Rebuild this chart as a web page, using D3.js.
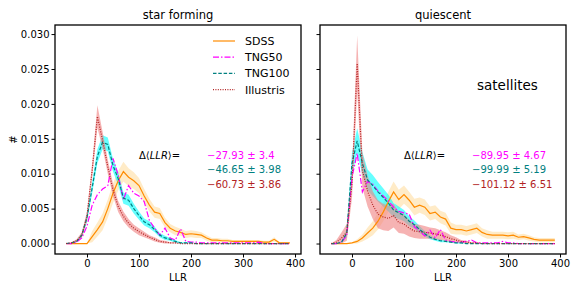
<!DOCTYPE html>
<html>
<head>
<meta charset="utf-8">
<script src="https://cdn.jsdelivr.net/npm/d3@7"></script>
<style>
body { margin: 0; background: #fff; }
text { font-family: "DejaVu Sans", sans-serif; }
</style>
</head>
<body>
<div id="chart"></div>
<script>
// bin centres (LLR)
var llr = [-40,-30,-20,-10,0,10,20,30,40,50,60,70,80,90,100,110,120,130,140,150,160,170,180,190,200,
  210,220,230,240,250,260,270,280,290,300,310,320,330,340,350,360,370,380,390];

// star forming
var sdssL = [0,0,0,0,0,0.001,0.002,0.0031,0.005,0.0072,0.009,0.0103,0.0095,0.009,0.0083,0.0068,0.0055,0.0045,0.0043,0.003,
  0.0022,0.0018,0.0016,0.0013,0.0014,0.0013,0.0012,0.0008,0.0005,0.0005,0.0004,0.0004,0.0003,0.0003,0.0003,0.0003,0.0003,0.0003,0.0002,0.0002,0.0006,0.0001,0.0001,0.0001];
var sdssErrL = [0,0,0,0,0,0.0008,0.001,0.0012,0.0013,0.0014,0.0014,0.0014,0.0013,0.0012,0.0011,0.001,0.0009,0.0008,0.0008,0.0007,
  0.0006,0.0006,0.0005,0.0005,0.0005,0.0005,0.0004,0.0004,0.0003,0.0003,0.0003,0.0003,0.0002,0.0002,0.0002,0.0002,0.0002,0.0002,0.0002,0.0002,0.0003,0.0001,0.0001,0.0001];
var tng50L = [0,0,0.0002,0.0008,0.0025,0.0055,0.007,0.0078,0.0083,0.0122,0.0098,0.0063,0.0083,0.0072,0.0068,0.006,0.0033,0.0022,0.0012,0.0022,
  0.0008,0.0005,0.0021,0.0003,0.0002,0.0002,0.0001,0.0001,0.0001,0.0001,0.0001,0.0001,0.0001,0.0001,0.0001,0.0001,0.0001,0.0002,0,0,0,0,0,0];
var tng100L = [0,0.0001,0.0003,0.0012,0.0037,0.008,0.0125,0.0145,0.0142,0.0112,0.0093,0.0065,0.0062,0.005,0.004,0.0031,0.0027,0.002,0.0012,0.0008,
  0.0006,0.0003,0.0001,0.0001,0.0001,0,0,0,0,0,0,0,0,0,0,0,0,0,0,0,0,0,0,0];
var tng100ErrL = [0,0,0.0001,0.0003,0.0006,0.0008,0.001,0.001,0.001,0.0009,0.0009,0.0008,0.0008,0.0007,0.0006,0.0005,0.0005,0.0004,0.0003,0.0003,
  0.0002,0.0002,0.0001,0.0001,0.0001,0,0,0,0,0,0,0,0,0,0,0,0,0,0,0,0,0,0,0];
var illL = [0,0.0001,0.0004,0.0012,0.0039,0.0105,0.0182,0.0148,0.011,0.0077,0.0053,0.0039,0.0029,0.0022,0.0017,0.0013,0.0009,0.0006,0.0003,0.0002,
  0.0001,0.0001,0,0,0,0,0,0,0,0,0,0,0,0,0,0,0,0,0,0,0,0,0,0];
var illErrL = [0,0.0001,0.0002,0.0004,0.0007,0.001,0.0016,0.0012,0.001,0.0009,0.0008,0.0007,0.0006,0.0005,0.0005,0.0004,0.0003,0.0003,0.0002,0.0002,
  0.0001,0.0001,0,0,0,0,0,0,0,0,0,0,0,0,0,0,0,0,0,0,0,0,0,0];

// quiescent
var sdssR = [0,0,0,0,0.0001,0.0003,0.0008,0.0015,0.0022,0.0032,0.0045,0.006,0.0074,0.0063,0.007,0.0062,0.0052,0.0055,0.0052,0.0043,
  0.0045,0.0038,0.0035,0.0022,0.002,0.002,0.0018,0.002,0.0022,0.0016,0.0013,0.0012,0.0012,0.0012,0.0011,0.0012,0.0009,0.001,0.0008,0.0006,0.0005,0.0005,0.0005,0.0005];
var sdssErrR = [0,0,0,0,0.0001,0.0003,0.0005,0.0008,0.001,0.0012,0.0013,0.0014,0.0015,0.0014,0.0013,0.0012,0.0012,0.0011,0.0011,0.001,
  0.001,0.0009,0.0009,0.0008,0.0007,0.0007,0.0007,0.0007,0.0007,0.0006,0.0006,0.0005,0.0005,0.0005,0.0005,0.0005,0.0004,0.0004,0.0004,0.0003,0.0003,0.0003,0.0003,0.0003];
var tng50R = [0,0,0.0002,0.0012,0.0095,0.0129,0.0074,0.0089,0.0085,0.0075,0.0068,0.0061,0.0052,0.0046,0.0044,0.0042,0.0024,0.0018,0.0011,0.0019,
  0.0008,0.002,0.0005,0.0003,0.0002,0.0002,0.0003,0.0005,0.0001,0.0001,0.0001,0.0001,0.0001,0.0003,0.0001,0.0001,0,0,0,0,0,0,0,0];
var tng100R = [0,0,0.0002,0.0015,0.0115,0.0147,0.0115,0.0091,0.0083,0.0074,0.0066,0.0058,0.0048,0.0044,0.004,0.0032,0.0027,0.002,0.0014,0.0009,
  0.0006,0.0004,0.0003,0.0002,0.0001,0.0001,0,0,0,0,0,0,0,0,0,0,0,0,0,0,0,0,0,0];
var tng100ErrR = [0,0,0.0001,0.0006,0.0015,0.0018,0.0016,0.0015,0.0015,0.0014,0.0013,0.0012,0.001,0.0009,0.0008,0.0007,0.0006,0.0005,0.0004,0.0003,
  0.0002,0.0002,0.0001,0.0001,0.0001,0.0001,0,0,0,0,0,0,0,0,0,0,0,0,0,0,0,0,0,0];
var illR = [0,0.0002,0.0008,0.0016,0.0085,0.0258,0.0105,0.0075,0.0055,0.0042,0.0038,0.0036,0.004,0.003,0.0028,0.0022,0.0018,0.0017,0.0016,0.0015,
  0.0014,0.0012,0.001,0.0007,0.0005,0.0003,0.0002,0.0001,0.0001,0,0,0,0,0,0,0,0,0,0,0,0,0,0,0];
var illErrR = [0,0.0003,0.0008,0.0012,0.002,0.004,0.0025,0.0022,0.002,0.002,0.0019,0.0018,0.0017,0.0015,0.0014,0.0012,0.001,0.001,0.0009,0.0008,
  0.0008,0.0007,0.0006,0.0005,0.0004,0.0002,0.0002,0.0001,0.0001,0,0,0,0,0,0,0,0,0,0,0,0,0,0,0];

var names = ["SDSS", "TNG50", "TNG100", "Illustris"];
var colors = ["#ff8c00", "#ff00ff", "#008080", "#b22222"];
var dashes = [null, "6,2,1.5,2", "3.5,1.8", "1,1.4"];
var bandColors = ["#ffa500", null, "#00ffff", "#f08080"];
var bandOpacity = [0.22, 0, 0.6, 0.6];
var xTicks = [0, 100, 200, 300, 400];
var yTicks = [0, 0.005, 0.010, 0.015, 0.020, 0.025, 0.030];
var titles = ["star forming", "quiescent"];
var deltaL = ["\u221227.93 \u00b1 3.4", "\u221246.65 \u00b1 3.98", "\u221260.73 \u00b1 3.86"];
var deltaR = ["\u221289.95 \u00b1 4.67", "\u221299.99 \u00b1 5.19", "\u2212101.12 \u00b1 6.51"];

var panels = [
  {left: 55, title: titles[0], series: [sdssL, tng50L, tng100L, illL], errs: [sdssErrL, null, tng100ErrL, illErrL], delta: deltaL, labels: true},
  {left: 320, title: titles[1], series: [sdssR, tng50R, tng100R, illR], errs: [sdssErrR, null, tng100ErrR, illErrR], delta: deltaR, labels: false}
];

var width = 246, height = 229, marginTop = 25;

var svg = d3.select("#chart").append("svg")
  .attr("width", 581)
  .attr("height", 291);

var x = d3.scaleLinear().domain([-61.5, 411.5]).range([0, width]);
var y = d3.scaleLinear().domain([-0.0015, 0.0313]).range([height, 0]);

panels.forEach(function(p) {
  var g = svg.append("g").attr("transform", "translate(" + p.left + "," + marginTop + ")");

  // bands
  p.series.forEach(function(s, k) {
    if (!p.errs[k]) return;
    var e = p.errs[k];
    var area = d3.area()
      .x(function(d, i) { return x(llr[i]); })
      .y0(function(d, i) { return y(Math.max(0, d - e[i])); })
      .y1(function(d, i) { return y(d + e[i]); });
    g.append("path").datum(s)
      .attr("d", area)
      .attr("fill", bandColors[k])
      .attr("fill-opacity", bandOpacity[k]);
  });

  // lines
  p.series.forEach(function(s, k) {
    var line = d3.line()
      .x(function(d, i) { return x(llr[i]); })
      .y(function(d) { return y(d); });
    g.append("path").datum(s)
      .attr("d", line)
      .attr("fill", "none")
      .attr("stroke", colors[k])
      .attr("stroke-width", 1.2)
      .attr("stroke-dasharray", dashes[k]);
  });

  var xAxis = d3.axisBottom(x).tickValues(xTicks).tickSize(3.5).tickPadding(2);
  var yAxis = d3.axisLeft(y).tickValues(yTicks).tickSize(3.5).tickPadding(2)
    .tickFormat(p.labels ? d3.format(".3f") : "");

  var gx = g.append("g").attr("transform", "translate(0," + height + ")").call(xAxis);
  var gy = g.append("g").call(yAxis);
  [gx, gy].forEach(function(a) {
    a.select(".domain").remove();
    a.selectAll("line").attr("stroke", "#000").attr("stroke-width", 1);
    a.selectAll("text").attr("font-size", 10).attr("fill", "#000")
      .style("font-family", "DejaVu Sans");
  });

  g.append("rect")
    .attr("width", width).attr("height", height)
    .attr("fill", "none").attr("stroke", "#000").attr("stroke-width", 1.3);

  g.append("text").attr("x", width / 2).attr("y", -6)
    .attr("text-anchor", "middle").attr("font-size", 11.5).text(p.title);

  g.append("text").attr("x", width / 2).attr("y", height + 27)
    .attr("text-anchor", "middle").attr("font-size", 10).text("LLR");

  // delta annotation
  var dt = g.append("text").attr("x", 84).attr("y", 134).attr("font-size", 10);
  dt.append("tspan").text("\u0394\u27e8");
  dt.append("tspan").attr("font-style", "italic").text("LLR");
  dt.append("tspan").text("\u27e9=");
  p.delta.forEach(function(t, k) {
    g.append("text").attr("x", 152).attr("y", 134 + k * 14.3)
      .attr("font-size", 10).attr("fill", colors[k + 1]).text(t);
  });
});

// y label
svg.append("text")
  .attr("transform", "translate(17,139.5) rotate(-90)")
  .attr("text-anchor", "middle").attr("font-size", 10).text("#");

// legend
var lg = svg.append("g").attr("transform", "translate(213,41)");
names.forEach(function(n, k) {
  var r = lg.append("g").attr("transform", "translate(0," + (k * 16.2) + ")");
  r.append("line").attr("x1", 0).attr("x2", 22)
    .attr("stroke", colors[k]).attr("stroke-width", 1.2)
    .attr("stroke-dasharray", dashes[k]);
  r.append("text").attr("x", 32).attr("y", 4).attr("font-size", 11).text(n);
});

svg.append("text").attr("x", 477).attr("y", 90).attr("font-size", 13.5).text("satellites");
</script>
</body>
</html>
